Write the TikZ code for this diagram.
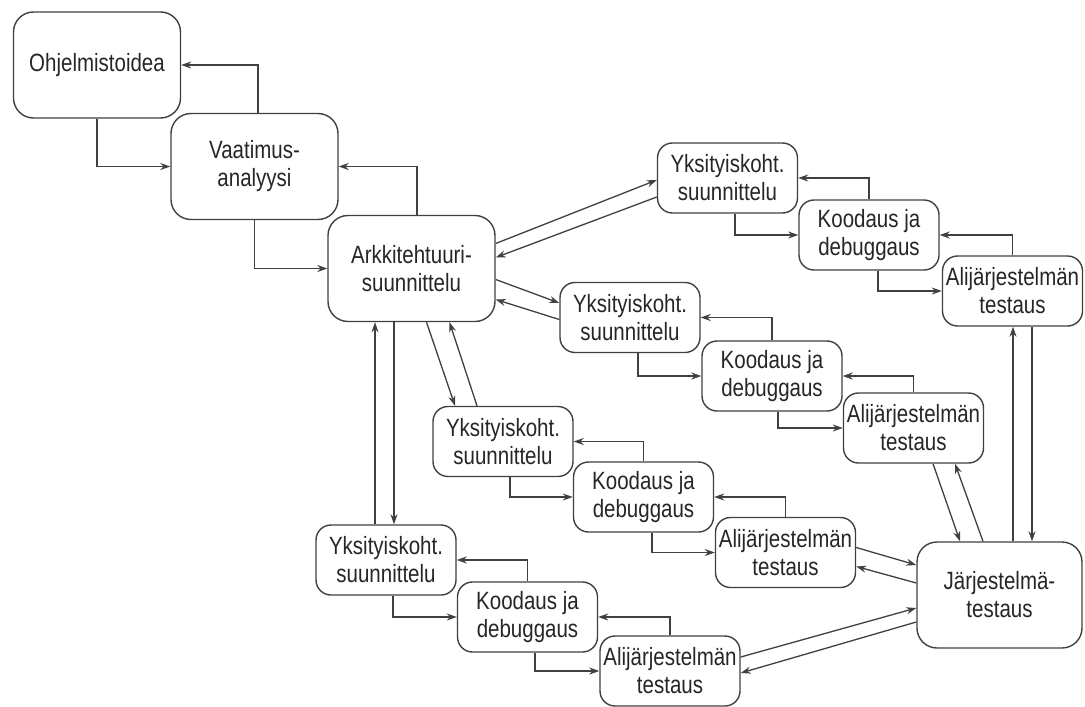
\documentclass[tikz,border=0pt]{standalone}
\usepackage{fontspec}
\setmainfont[FakeStretch=0.82]{Liberation Sans}
\usetikzlibrary{arrows.meta}
\begin{document}
\begin{tikzpicture}[x=1pt,y=-1pt,
  every node/.style={draw=black!75, line width=1.4pt, align=center,
    text=black!85, font=\fontsize{25}{28}\selectfont, inner sep=0pt},
  bigbox/.style={rounded corners=20pt, minimum width=167pt, minimum height=106pt},
  smallbox/.style={rounded corners=15pt, minimum width=140pt, minimum height=70pt},
  arr/.style={draw=black!75, line width=1.3pt, -{Stealth[length=10pt,width=7pt]}}]
\useasboundingbox (0,0) rectangle (1085,707);

% main phases
\node[bigbox] (idea)  at (97,65)      {Ohjelmistoidea};
\node[bigbox] (vaat)  at (254.5,166.5) {Vaatimus-\\analyysi};
\node[bigbox] (arkki) at (411.5,268.5) {Arkkitehtuuri-\\suunnittelu};
\node[bigbox, minimum width=165pt] (jarj) at (999.5,595) {Järjestelmä-\\testaus};

% subsystem chain 1
\node[smallbox] (yks1)  at (727.5,178)  {Yksityiskoht.\\suunnittelu};
\node[smallbox] (kood1) at (869,235)    {Koodaus ja\\debuggaus};
\node[smallbox] (alij1) at (1012.5,291) {Alijärjestelmän\\testaus};
% subsystem chain 2
\node[smallbox] (yks2)  at (630,317.5)  {Yksityiskoht.\\suunnittelu};
\node[smallbox] (kood2) at (772,376)    {Koodaus ja\\debuggaus};
\node[smallbox] (alij2) at (913.5,428)  {Alijärjestelmän\\testaus};
% subsystem chain 3
\node[smallbox] (yks3)  at (503,441.5)  {Yksityiskoht.\\suunnittelu};
\node[smallbox] (kood3) at (643.5,497)  {Koodaus ja\\debuggaus};
\node[smallbox] (alij3) at (785.5,552.5){Alijärjestelmän\\testaus};
% subsystem chain 4
\node[smallbox] (yks4)  at (386,560)    {Yksityiskoht.\\suunnittelu};
\node[smallbox] (kood4) at (527.5,617)  {Koodaus ja\\debuggaus};
\node[smallbox] (alij4) at (670,671)    {Alijärjestelmän\\testaus};

% waterfall steps with feedback
\draw[arr] ([xshift=3.5pt]vaat.north) |- (idea.east);
\draw[arr] (idea.south) |- (vaat.west);
\draw[arr] (vaat.south) |- (arkki.west);
\draw[arr] ([xshift=5.5pt]arkki.north) |- (vaat.east);

% chains: design -> code -> subsystem test, with feedback
\foreach \c/\a/\b in {1/7.5/9, 2/8/6, 3/7/8.5, 4/7/7.5}{
  \draw[arr] (kood\c.north) |- (yks\c.east);
  \draw[arr] ([xshift=\a pt]yks\c.south) |- (kood\c.west);
  \draw[arr] (alij\c.north) |- (kood\c.east);
  \draw[arr] ([xshift=\b pt]kood\c.south) |- (alij\c.west);
}

% architecture <-> detailed designs
\draw[arr] ([yshift=25pt]arkki.east) -- ([yshift=-2pt]yks1.west);
\draw[arr] ([yshift=-19pt]yks1.west) -- ([yshift=11pt]arkki.east);
\draw[arr] ([yshift=-11pt]arkki.east) -- ([yshift=14.5pt]yks2.west);
\draw[arr] ([yshift=-2pt]yks2.west) -- ([yshift=-31pt]arkki.east);
\draw[arr] ([xshift=15pt]arkki.south) -- ([xshift=-48pt]yks3.north);
\draw[arr] ([xshift=-26pt]yks3.north) -- ([xshift=38pt]arkki.south);
\draw[arr] ([xshift=-11pt]yks4.north) -- ([xshift=-36.5pt]arkki.south);
\draw[arr] ([xshift=-17.5pt]arkki.south) -- ([xshift=8pt]yks4.north);

% subsystem tests <-> system test
\draw[arr] ([xshift=13.5pt]jarj.north) -- ([xshift=0.5pt]alij1.south);
\draw[arr] ([xshift=19.5pt]alij1.south) -- ([xshift=32.5pt]jarj.north);
\draw[arr] ([xshift=19.5pt]alij2.south) -- ([xshift=-39.5pt]jarj.north);
\draw[arr] ([xshift=-16.5pt]jarj.north) -- ([xshift=41.5pt]alij2.south);
\draw[arr] ([yshift=5pt]alij3.east) -- ([yshift=30pt]jarj.west);
\draw[arr] ([yshift=12pt]jarj.west) -- ([yshift=-14pt]alij3.east);
\draw[arr] ([yshift=14pt]alij4.east) -- ([yshift=-13pt]jarj.west);
\draw[arr] ([yshift=-27pt]jarj.west) -- ([yshift=-2pt]alij4.east);
\end{tikzpicture}
\end{document}
